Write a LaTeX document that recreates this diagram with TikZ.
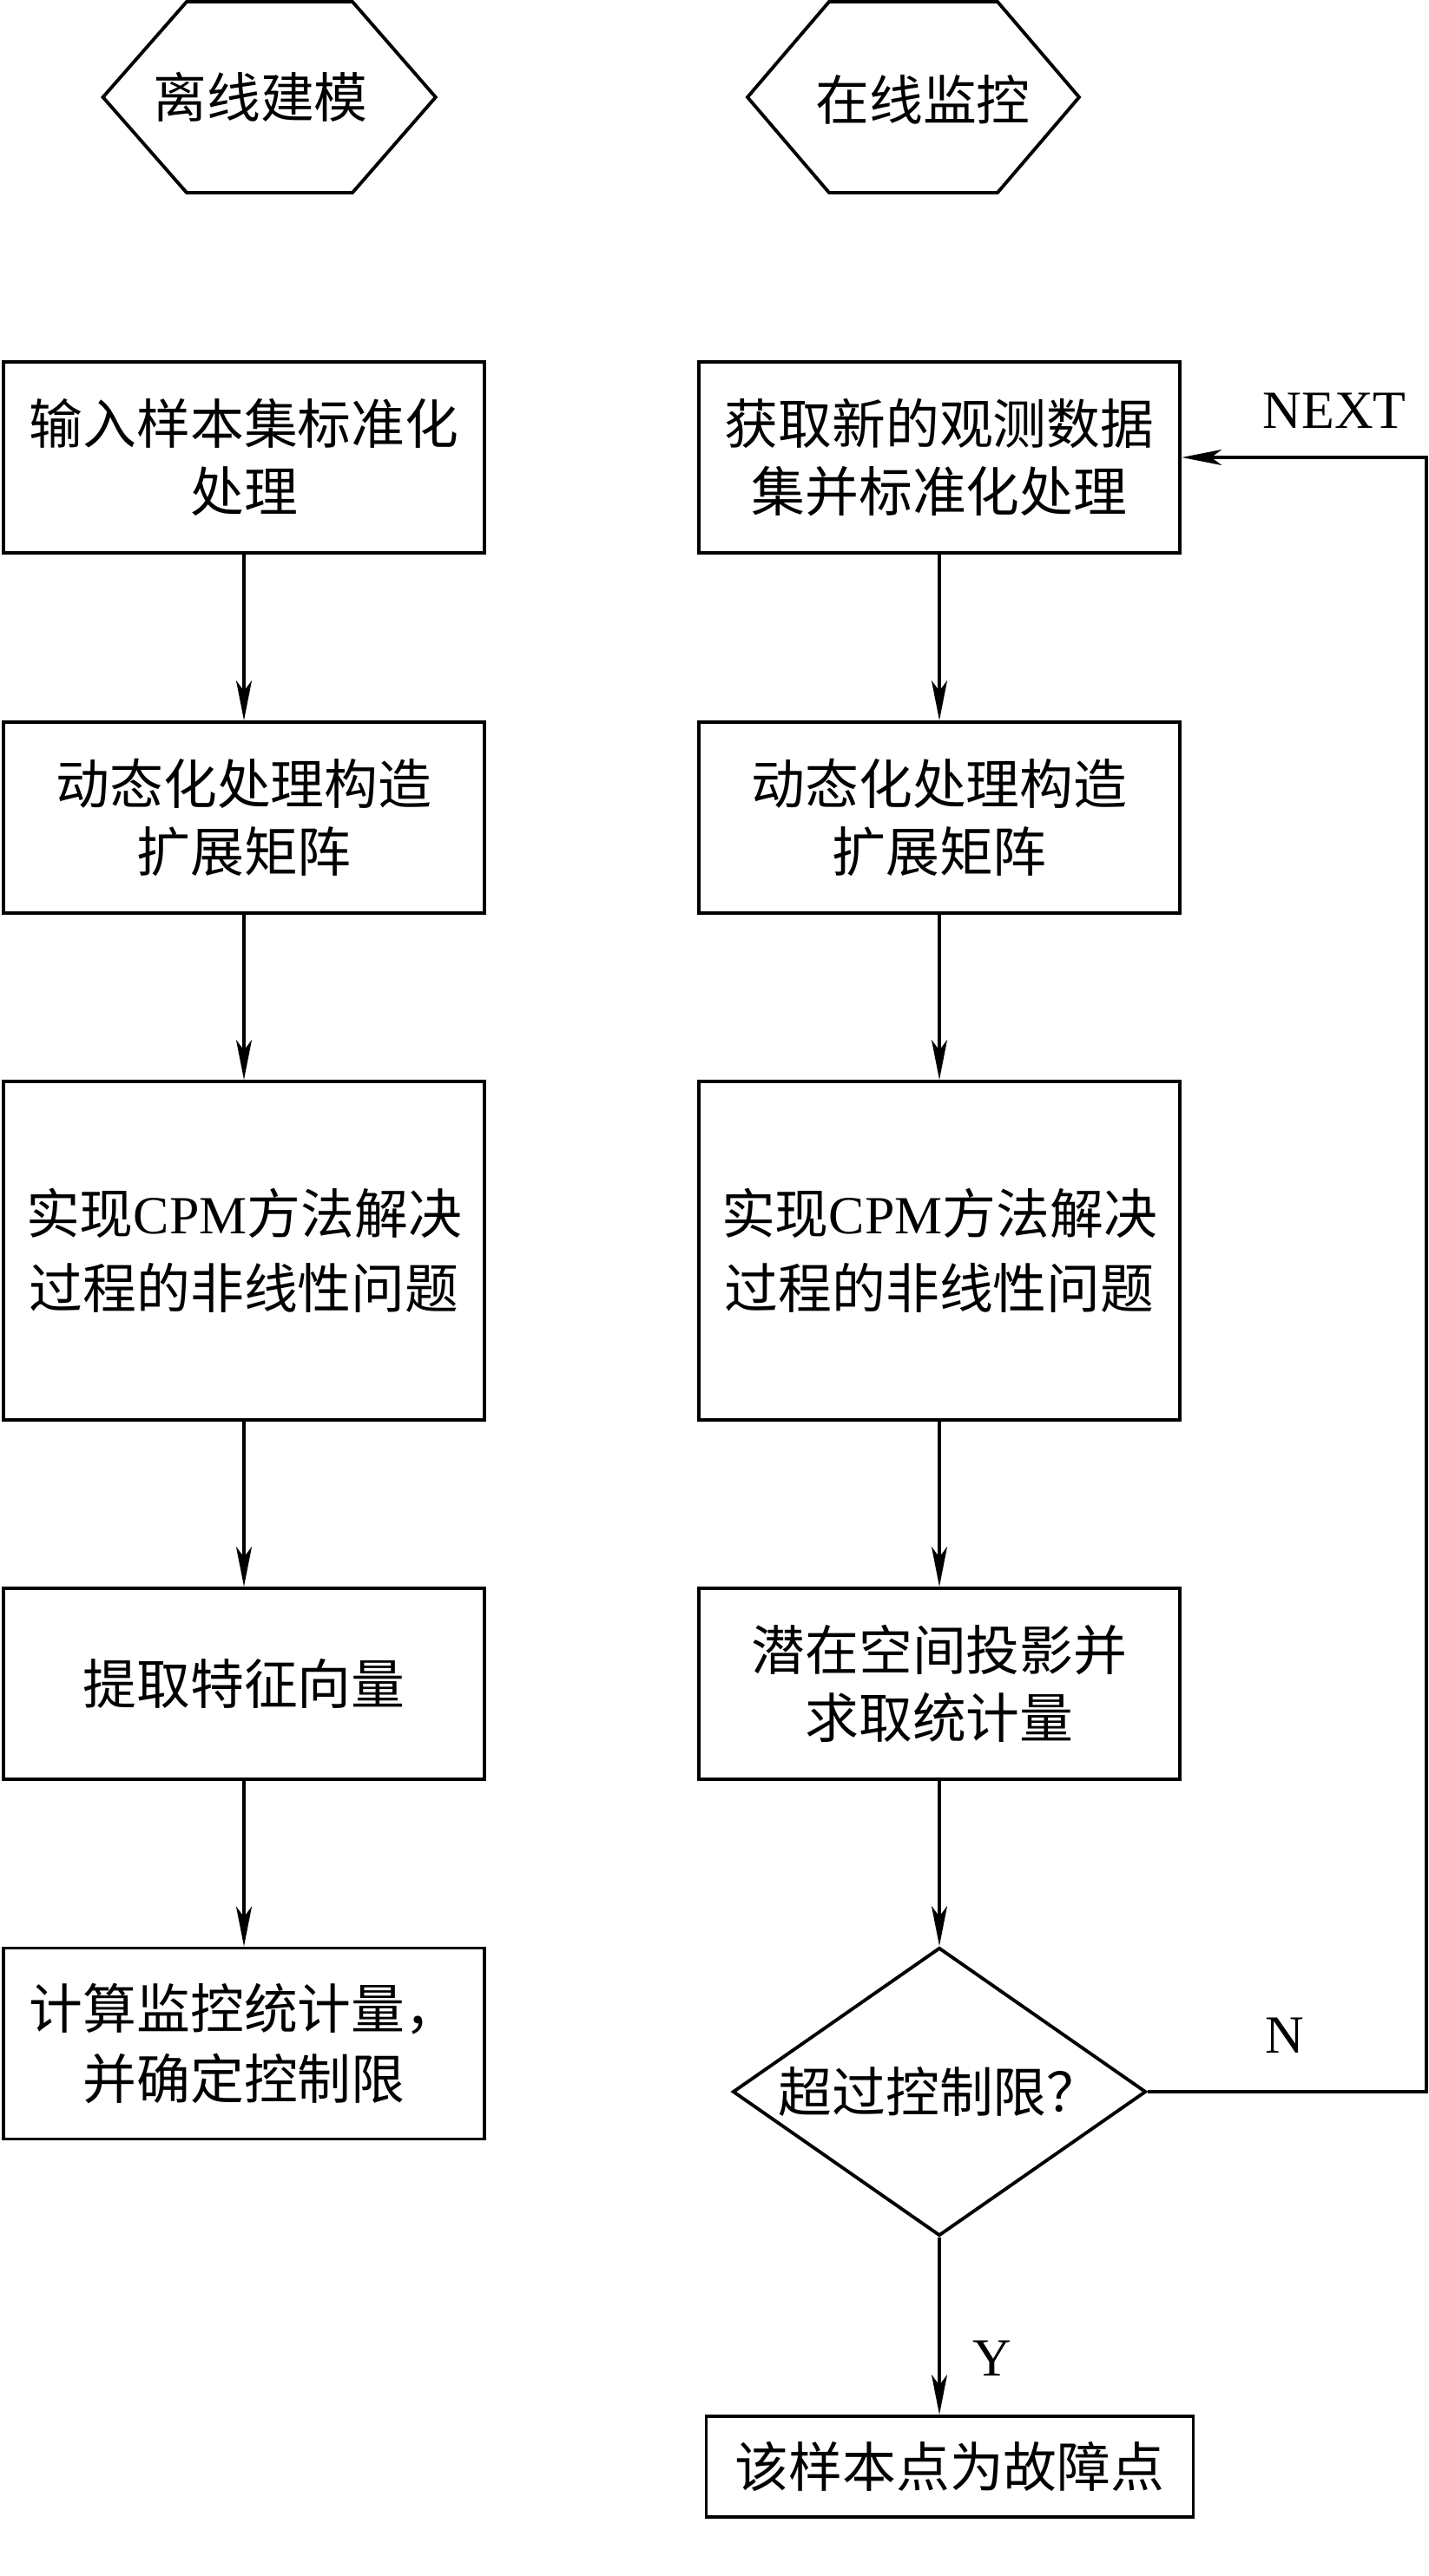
\documentclass[tikz,border=0pt]{standalone}
\usepackage{fontspec}
\setmainfont{Liberation Serif}
\newfontfamily\cjk{Noto Sans CJK SC}
\usetikzlibrary{arrows.meta,shapes.geometric}

\begin{document}
\begin{tikzpicture}[
			scale = 1,
			every node/.style = {font = \cjk\fontsize{17.6}{22}\selectfont},
			box/.style = {draw, line width = 1.1pt, minimum width = 5.545cm, minimum height = 2.2cm, align = center, inner sep = 0pt},
			decide/.style = {draw, diamond, line width = 1.1pt, minimum width = 4.76cm, minimum height = 3.32cm, aspect = 1.43, inner sep = 0pt},
			lab/.style = {font = \fontsize{17.6}{22}\selectfont},
			flow/.style = {line width = 0.9pt, -{Stealth[length = 4.6mm, width = 1.8mm, inset = 1.2mm]}}
			]

			\useasboundingbox (0,0) rectangle (16.46,-29.68);

			\def\xl{2.81}
			\def\xr{10.82}
			\def\xe{16.43}

			% hexagons
			\draw[line width = 1.1pt] (1.186,-1.12) -- (2.15,-0.02) -- (4.06,-0.02) -- (5.018,-1.12) -- (4.06,-2.22) -- (2.15,-2.22) -- cycle;
			\draw[line width = 1.1pt] (8.61,-1.12) -- (9.55,-0.02) -- (11.49,-0.02) -- (12.43,-1.12) -- (11.49,-2.22) -- (9.55,-2.22) -- cycle;
			\node (offline) at (3.0,-1.12) {离线建模};
			\node (online) at (10.63,-1.15) {在线监控};

			% offline modelling
			\node[box] (l1) at (\xl,-5.27) {输入样本集标准化\\处理};
			\node[box] (l2) at (\xl,-9.42) {动态化处理构造\\扩展矩阵};
			\node[box, minimum height = 3.9cm, font = \cjk\fontsize{17.6}{24.5}\selectfont] (l3) at (\xl,-14.41) {实现\textrm{CPM}方法解决\\过程的非线性问题};
			\node[box] (l4) at (\xl,-19.40) {提取特征向量};
			\node[box, font = \cjk\fontsize{17.6}{23}\selectfont] (l5) at (\xl,-23.545) {计算监控统计量，\\并确定控制限};

			\draw[flow] (l1.south) -- (l2.north);
			\draw[flow] (l2.south) -- (l3.north);
			\draw[flow] (l3.south) -- (l4.north);
			\draw[flow] (l4.south) -- (l5.north);

			% online monitoring
			\node[box] (r1) at (\xr,-5.27) {获取新的观测数据\\集并标准化处理};
			\node[box] (r2) at (\xr,-9.42) {动态化处理构造\\扩展矩阵};
			\node[box, minimum height = 3.9cm, font = \cjk\fontsize{17.6}{24.5}\selectfont] (r3) at (\xr,-14.41) {实现\textrm{CPM}方法解决\\过程的非线性问题};
			\node[box] (r4) at (\xr,-19.40) {潜在空间投影并\\求取统计量};
			\node[decide] (dec) at (\xr,-24.10) {超过控制限？};
			\node[box, minimum width = 5.61cm, minimum height = 1.16cm] (fault) at (10.94,-28.42) {该样本点为故障点};

			\draw[flow] (r1.south) -- (r2.north);
			\draw[flow] (r2.south) -- (r3.north);
			\draw[flow] (r3.south) -- (r4.north);
			\draw[flow] (r4.south) -- (dec.north);
			\draw[flow] (dec.south) -- (dec.south |- fault.north);

			\coordinate (nbend) at (\xe,-24.10);
			\coordinate (nup) at (\xe,-5.27);
			\draw[flow] (dec.east) -- (nbend) -- (nup) -- (r1.east);

			\node[lab] (next) at (15.37,-4.73) {NEXT};
			\node[lab] (no) at (14.80,-23.45) {N};
			\node[lab] (yes) at (11.43,-27.17) {Y};

		\end{tikzpicture}
\end{document}
